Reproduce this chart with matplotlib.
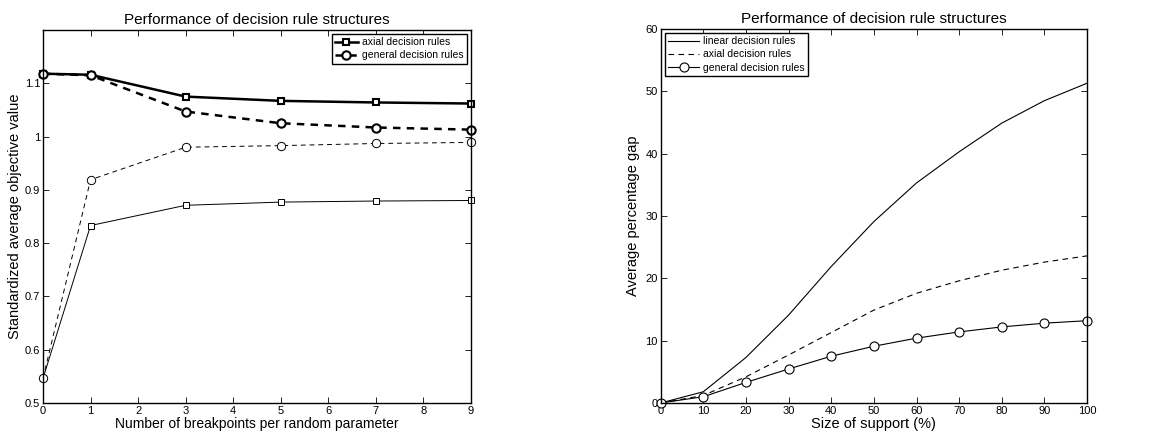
import matplotlib
matplotlib.use("Agg")
import matplotlib.pyplot as plt

plt.rcParams['font.family'] = ['Liberation Sans', 'DejaVu Sans']

# left panel data
breakpoints = [0, 1, 3, 5, 7, 9]
axial_bold = [1.118, 1.116, 1.075, 1.067, 1.064, 1.062]
general_bold = [1.118, 1.115, 1.047, 1.025, 1.017, 1.013]
general_thin = [0.546, 0.919, 0.980, 0.983, 0.987, 0.989]
axial_thin = [0.546, 0.833, 0.871, 0.877, 0.879, 0.880]

# right panel data
support = [0, 10, 20, 30, 40, 50, 60, 70, 80, 90, 100]
linear_gap = [0, 1.8, 7.3, 14.1, 21.9, 29.1, 35.3, 40.3, 44.9, 48.5, 51.3]
axial_gap = [0, 1.2, 4.2, 7.7, 11.3, 14.9, 17.6, 19.6, 21.3, 22.6, 23.6]
general_gap = [0, 1.0, 3.3, 5.45, 7.5, 9.1, 10.4, 11.4, 12.2, 12.8, 13.2]

fig = plt.figure(figsize=(11.62, 4.38), dpi=100)
ax1 = fig.add_axes([0.037, 0.080, 0.3683, 0.8515])
ax2 = fig.add_axes([0.5686, 0.080, 0.3669, 0.8538])


def matlab_style(ax):
    ax.tick_params(direction='in', top=True, right=True, labelsize=8,
                   length=4, width=0.6, pad=2)
    for s in ax.spines.values():
        s.set_linewidth(1.0)


# left
ax1.plot(breakpoints, axial_thin, 'k-', lw=0.7, marker='s', ms=5,
         mfc='white', mec='k', mew=0.7, clip_on=False)
ax1.plot(breakpoints, general_thin, 'k--', lw=0.7, marker='o', ms=6,
         mfc='white', mec='k', mew=0.7, dashes=(5, 4), clip_on=False)
ax1.plot(breakpoints, axial_bold, 'k-', lw=1.8, marker='s', ms=5,
         mfc='white', mec='k', mew=1.5, label='axial decision rules',
         clip_on=False)
ax1.plot(breakpoints, general_bold, 'k--', lw=1.8, marker='o', ms=6,
         mfc='white', mec='k', mew=1.5, dashes=(3, 2.5),
         label='general decision rules', clip_on=False)
ax1.set_xlim(0, 9)
ax1.set_ylim(0.5, 1.2)
ax1.set_xticks(range(10))
ax1.set_yticks([0.5, 0.6, 0.7, 0.8, 0.9, 1.0, 1.1])
ax1.set_yticklabels(['0.5', '0.6', '0.7', '0.8', '0.9', '1', '1.1'])
ax1.set_title('Performance of decision rule structures', fontsize=11, pad=4)
ax1.set_xlabel('Number of breakpoints per random parameter', fontsize=10, labelpad=1)
ax1.set_ylabel('Standardized average objective value', fontsize=10.5, labelpad=2)
matlab_style(ax1)
leg1 = ax1.legend(loc='upper right', fontsize=7.5, fancybox=False, framealpha=1,
                  edgecolor='k', borderaxespad=0.4, handlelength=2.2,
                  borderpad=0.3, labelspacing=0.3, handletextpad=0.4)
leg1.get_frame().set_linewidth(1.0)

# right
ax2.plot(support, linear_gap, 'k-', lw=0.8, label='linear decision rules')
ax2.plot(support, axial_gap, 'k--', lw=0.8, dashes=(5, 4),
         label='axial decision rules')
ax2.plot(support, general_gap, 'k-', lw=0.8, marker='o', ms=6.5,
         mfc='white', mec='k', mew=0.8, label='general decision rules',
         clip_on=False)
ax2.set_xlim(0, 100)
ax2.set_ylim(0, 60)
ax2.set_xticks(range(0, 101, 10))
ax2.set_yticks(range(0, 61, 10))
ax2.set_title('Performance of decision rule structures', fontsize=11, pad=4)
ax2.set_xlabel('Size of support (%)', fontsize=10.5, labelpad=1)
ax2.set_ylabel('Average percentage gap', fontsize=10.5, labelpad=4)
matlab_style(ax2)
leg2 = ax2.legend(loc='upper left', fontsize=7.5, fancybox=False, framealpha=1,
                  edgecolor='k', borderaxespad=0.4, handlelength=3.0,
                  borderpad=0.3, labelspacing=0.3, handletextpad=0.4)
leg2.get_frame().set_linewidth(1.0)

fig.savefig('out.png', dpi=100)
